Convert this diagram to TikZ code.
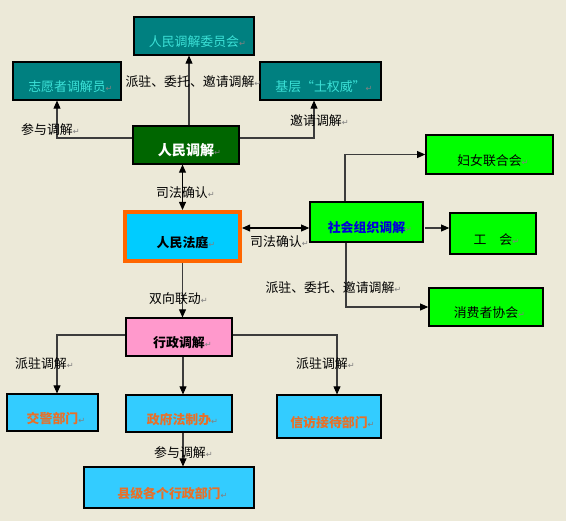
\documentclass[tikz,border=0pt]{standalone}
\usepackage{fontspec}
\setmainfont{Noto Sans CJK SC}
\newfontfamily\symfont{DejaVu Sans}
\usetikzlibrary{arrows.meta,positioning,calc}

\definecolor{bgxp}{RGB}{236,233,216}
\definecolor{tealbox}{RGB}{0,128,128}
\definecolor{tealtxt}{RGB}{60,225,215}
\definecolor{darkgrn}{RGB}{0,102,0}
\definecolor{courtblue}{RGB}{0,204,255}
\definecolor{courtorange}{RGB}{255,102,0}
\definecolor{brightgrn}{RGB}{0,255,0}
\definecolor{pinkbox}{RGB}{255,153,204}
\definecolor{deptblue}{RGB}{51,204,255}
\definecolor{depttxt}{RGB}{232,112,40}
\definecolor{linegray}{RGB}{60,60,60}

\newcommand{\pmark}{\rlap{\symfont\color{gray}\fontsize{7}{8}\selectfont\mdseries ↵}}

\begin{document}
\begin{tikzpicture}[x=0.03cm, y=-0.03cm,
    font=\fontsize{11}{13}\selectfont,
    box/.style={draw, line width=0.9pt, text height=18pt, text depth=0pt,
                inner sep=0pt, align=center},
    tealbx/.style={box, fill=tealbox, text=tealtxt, minimum height=1.14cm},
    grnbx/.style={box, fill=brightgrn, line width=1.3pt},
    deptbx/.style={box, fill=deptblue, text=depttxt, font=\fontsize{11}{13}\selectfont\bfseries},
    lbl/.style={inner sep=0pt},
    arr/.style={-{Triangle[length=7pt,width=6pt,black]}, linegray, line width=0.9pt},
    darr/.style={{Triangle[length=7pt,width=6pt]}-{Triangle[length=7pt,width=6pt]}, black, line width=0.9pt}
  ]
    \fill[bgxp] (0,0) rectangle (566,521);

    %% ── 人民调解 ──
    \node[tealbx, minimum width=3.6cm]  (wyh) at (194,36)   {人民调解委员会\pmark};
    \node[tealbx, minimum width=3.24cm] (zyz) at (67,81)    {志愿者调解员\pmark};
    \node[tealbx, minimum width=3.63cm] (jc)  at (320.5,81) {基层“土权威”\pmark};
    \node[box, fill=darkgrn, text=white, font=\fontsize{12}{14}\selectfont\bfseries,
          minimum width=3.18cm, minimum height=1.14cm] (rmtj) at (186,145) {人民调解\pmark};

    %% ── 人民法庭 ──
    \node[box, fill=courtblue, draw=courtorange, line width=3.8pt,
          font=\fontsize{11}{13}\selectfont\bfseries,
          minimum width=3.435cm, minimum height=1.455cm] (ft) at (182.5,236.5) {人民法庭\pmark};

    %% ── 社会组织调解 ──
    \node[grnbx, text=blue!85!black, font=\fontsize{11}{13}\selectfont\bfseries,
          minimum width=3.39cm, minimum height=1.2cm] (shzz) at (366.5,222) {社会组织调解\pmark};
    \node[grnbx, minimum width=3.81cm, minimum height=1.17cm] (fn) at (489.5,154.5) {妇女联合会\pmark};
    \node[grnbx, minimum width=2.58cm, minimum height=1.23cm] (gh) at (493,233.5)  {工\hspace{1em}会\pmark};
    \node[grnbx, minimum width=3.42cm, minimum height=1.14cm] (xf) at (486,307)    {消费者协会\pmark};

    %% ── 行政调解 ──
    \node[box, fill=pinkbox, font=\fontsize{11}{13}\selectfont\bfseries,
          minimum width=3.18cm, minimum height=1.14cm] (xz) at (179,337) {行政调解\pmark};
    \node[deptbx, minimum width=2.73cm, minimum height=1.11cm] (jj)   at (52.5,412.5) {交警部门\pmark};
    \node[deptbx, minimum width=3.18cm, minimum height=1.11cm] (fz)   at (179,413.5)  {政府法制办\pmark};
    \node[deptbx, minimum width=3.12cm, minimum height=1.29cm] (xfjd) at (329,416.5)  {信访接待部门\pmark};
    \node[deptbx, minimum width=5.1cm,  minimum height=1.23cm] (xj)   at (169,487.5)  {县级各个行政部门\pmark};

    %% ── 连线 ──
    \coordinate (rmtjT) at ($(rmtj.north)+(3,0)$);
    \coordinate (rmtjL) at ($(rmtj.west)+(0,-7)$);
    \coordinate (rmtjR) at ($(rmtj.east)+(0,-7)$);
    \coordinate (ftR)   at ($(ft.east)+(0,-8.5)$);
    \coordinate (shzzT) at ($(shzz.north)+(-21.5,0)$);
    \coordinate (shzzR) at ($(shzz.east)+(1,6)$);
    \coordinate (shzzB) at ($(shzz.south)+(-20.5,0)$);
    \coordinate (xzL)   at ($(xz.west)+(0,-2)$);
    \coordinate (xzR)   at ($(xz.east)+(0,-2)$);
    \coordinate (xzB)   at ($(xz.south)+(4,0)$);
    \coordinate (fzB)   at ($(fz.south)+(4,0)$);
    \coordinate (zyzB)  at ($(zyz.south)+(-10,0)$);
    \coordinate (jcB)   at ($(jc.south)+(-6.5,0)$);
    \coordinate (jjT)   at ($(jj.north)+(4.5,0)$);
    \coordinate (xfjdT) at ($(xfjd.north)+(8,0)$);

    \draw[arr] (rmtjT) -- (rmtjT |- wyh.south);
    \draw[arr] (rmtjL) -| (zyzB);
    \draw[arr] (rmtjR) -| (jcB);
    \draw[darr] (ft.north |- rmtj.south) -- (ft.north);
    \draw[darr] (ftR) -- (ftR -| shzz.west);
    \draw[arr] (shzzT) |- (fn.west);
    \draw[arr] (shzzR) -- (shzzR -| gh.west);
    \draw[arr] (shzzB) |- (xf.west);
    \draw[arr] (ft.south) -- (ft.south |- xz.north);
    \draw[arr] (xzL) -| (jjT);
    \draw[arr] (xzR) -| (xfjdT);
    \draw[arr] (xzB) -- (xzB |- fz.north);
    \draw[arr] (fzB) -- (fzB |- xj.north);

    %% ── 标注 ──
    \node[lbl] (l1)  at (190,82)  {派驻、委托、邀请调解\pmark};
    \node[lbl] (l2)  at (47,130)  {参与调解\pmark};
    \node[lbl] (l3)  at (316,121) {邀请调解\pmark};
    \node[lbl] (l4)  at (182,193) {司法确认\pmark};
    \node[lbl] (l5)  at (276,242) {司法确认\pmark};
    \node[lbl] (l6)  at (330,288) {派驻、委托、邀请调解\pmark};
    \node[lbl] (l7)  at (175,299) {双向联动\pmark};
    \node[lbl] (l8)  at (41,364)  {派驻调解\pmark};
    \node[lbl] (l9)  at (322,364) {派驻调解\pmark};
    \node[lbl] (l10) at (180,453) {参与调解\pmark};
\end{tikzpicture}
\end{document}
